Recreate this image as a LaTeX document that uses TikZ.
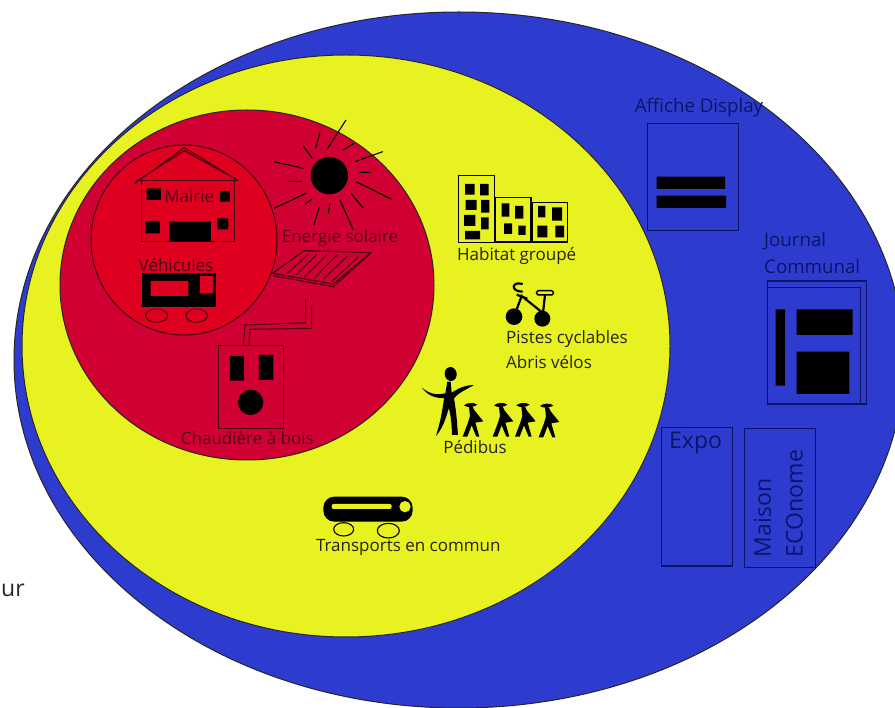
\documentclass[tikz,border=0pt]{standalone}
\usepackage{fontspec}
\setmainfont{Open Sans}
\definecolor{cblue}{HTML}{2E3BCF}
\definecolor{cyellow}{HTML}{E8F220}
\definecolor{cred}{HTML}{D00032}
\definecolor{cinner}{HTML}{DF0020}
\definecolor{tred}{HTML}{4E0818}
\definecolor{lred}{HTML}{4A0412}
\definecolor{tyel}{HTML}{24240E}
\definecolor{tblue}{HTML}{0C1568}
\definecolor{lblue}{HTML}{0C1466}
\tikzset{
  lab/.style={inner sep=0pt,font=\fontsize{17}{19}\selectfont},
  labred/.style={lab,text=tred},
  labyel/.style={lab,text=tyel},
  labblue/.style={inner sep=0pt,text=tblue,font=\fontsize{18.7}{21}\selectfont},
  labbig/.style={inner sep=0pt,text=tblue,font=\fontsize{23}{25}\selectfont},
  regionline/.style={draw=black!85,line width=1pt},
  redline/.style={draw=lred,line width=1.1pt},
  blueline/.style={draw=lblue,line width=1.2pt},
  zoomA/.style={shift={(50,110)},x=0.33333pt,y=-0.33333pt},
  zoomB/.style={shift={(300,160)},x=0.33333pt,y=-0.33333pt},
  zoomC/.style={shift={(620,90)},x=0.33333pt,y=-0.33333pt},
  kid/.pic={
    \fill[black] (-20,-2) .. controls (-12,-10) and (10,-12) .. (20,-4) .. controls (10,4) and (-10,6) .. cycle;
    \fill[black] (-5,2) -- (6,2) -- (12,14) -- (38,46) -- (14,50) -- (26,92) -- (17,92) -- (3,58) -- (-10,92) -- (-24,92) -- (-8,50) -- (-2,30) -- cycle;
  }
}
\begin{document}
\begin{tikzpicture}[x=1pt,y=-1pt]
\useasboundingbox (0,0) rectangle (895,708);
\clip (0,0) rectangle (895,708);
% regions
\path[fill=cblue,regionline] (459,360) ellipse (445 and 348);
\path[fill=cyellow,regionline] (346,346) ellipse (324 and 291);
\path[fill=cred,regionline] (247,285) ellipse (187 and 175);
\path[fill=cinner,redline] (184,240) ellipse (93 and 95);
\node[inner sep=0pt,anchor=west,font=\fontsize{23}{28}\selectfont,text=black!85] (ur) at (1,590) {ur};
% red circle
\begin{scope}[zoomA]
  % house
  \draw[redline] (255,220) -- (403,113) -- (565,212) (262,212) -- (403,122) -- (558,208);
  \draw[redline] (258,212) -- (560,212);
  \draw[redline] (275,212) rectangle (553,395);
  \fill[black] (290,235) rectangle (333,270) (510,243) rectangle (540,275)
    (287,333) rectangle (330,370) (503,325) rectangle (535,358) (358,335) rectangle (483,395);
  \node[labred] (mairie) at (418,258) {Mairie};
  % vehicle
  \node[labred] (vehicules) at (378,466) {Véhicules};
  \fill[black] (277,490) rectangle (497,590);
  \fill[cinner] (302,513) rectangle (415,558) (450,498) rectangle (490,550);
  \draw[redline] (320,617) ellipse (33 and 20) (440,617) ellipse (32 and 20);
  % sun
  \fill[black] (838,197) circle (56);
  \draw[draw=black,line width=1.1pt]
    (830,120)--(888,30) (797,115)--(810,68) (760,108)--(787,145) (880,120)--(912,100)
    (915,155)--(998,125) (928,187)--(962,187) (918,215)--(1025,268) (903,250)--(940,295)
    (870,270)--(910,360) (840,280)--(835,310) (808,290)--(792,345) (785,268)--(765,282)
    (768,250)--(672,295) (715,214)--(758,214) (760,175)--(672,155);
  \node[labred] (solaire) at (870,385) {Energie solaire};
  % panel
  \draw[redline,line width=1.3pt] (668,490) -- (762,422) -- (962,428) -- (850,522) -- cycle;
  \draw[redline] (668,497) -- (850,530) -- (962,430);
  \draw[redline] (712,490)--(775,432) (738,495)--(800,434) (765,500)--(830,435)
    (792,505)--(860,436) (818,510)--(892,438) (845,515)--(925,440);
  % pipes
  \draw[redline] (767,565) -- (767,638) -- (585,645) -- (580,705);
  \draw[redline] (785,588) -- (785,655) -- (600,658) -- (597,705);
  % boiler
  \draw[redline,line width=1.3pt] (505,707) rectangle (700,955);
  \fill[black] (540,738) rectangle (582,812) (627,735) rectangle (670,810);
  \fill[black] (602,877) circle (38);
  \node[labred] (chaudiere) at (592,985) {Chaudière à bois};
\end{scope}
% yellow region
\begin{scope}[zoomB]
  \draw[black,line width=1.2pt] (476,46) rectangle (583,248) (586,113) rectangle (693,246) (696,127) rectangle (803,246);
  \fill[black] (495,72) rectangle (524,104) (540,72) rectangle (566,106)
    (497,120) rectangle (530,150) (543,120) rectangle (568,158)
    (492,165) rectangle (526,198) (543,172) rectangle (566,208)
    (495,213) rectangle (540,238)
    (605,130) rectangle (628,170) (645,138) rectangle (670,176)
    (612,190) rectangle (636,222) (655,197) rectangle (677,225)
    (714,138) rectangle (736,172) (756,142) rectangle (786,182)
    (712,197) rectangle (742,232) (766,197) rectangle (792,232);
  \node[labyel] (habitat) at (650,287) {Habitat groupé};
  % bike
  \fill[black] (642,470) circle (25) (727,476) circle (24);
  \draw[black,line width=2.2pt] (642,470) -- (665,408) -- (730,460) (735,405) -- (727,476) (650,404) -- (682,416);
  \draw[black,line width=2.2pt] (668,372) .. controls (635,362) and (630,395) .. (668,395);
  \draw[black,line width=1.5pt,fill=cyellow,rounded corners=1.5pt] (710,392) rectangle (760,405);
  \node[labyel,anchor=west] (pistes) at (618,537) {Pistes cyclables};
  \node[labyel,anchor=west] (abris) at (618,605) {Abris vélos};
  % teacher
  \fill[black,rotate around={10:(452,642)}] (452,642) ellipse (18 and 21);
  \fill[black] (365,682) .. controls (390,705) and (415,705) .. (436,700) -- (442,665) -- (452,665)
    -- (455,698) .. controls (480,682) and (500,675) .. (522,675)
    .. controls (500,688) and (480,695) .. (462,715)
    .. controls (470,760) and (472,800) .. (474,825) -- (456,825)
    .. controls (455,790) and (452,760) .. (446,745)
    .. controls (438,775) and (428,805) .. (408,828)
    .. controls (420,790) and (428,750) .. (432,714)
    .. controls (410,715) and (385,710) .. cycle;
  \pic at (512,738) {kid};
  \pic at (602,738) {kid};
  \pic at (669,738) {kid};
  \pic at (740,740) {kid};
  \node[labyel] (pedibus) at (525,862) {Pédibus};
  % tram
  \fill[black,rounded corners=11pt] (70,1010) rectangle (338,1085);
  \fill[cyellow,rounded corners=2pt] (95,1032) rectangle (275,1047);
  \fill[cyellow] (315,1040) circle (17);
  \draw[black,line width=1.1pt] (131,1108) ellipse (30 and 20) (265,1112) ellipse (33 and 22);
  \node[labyel] (transports) at (325,1162) {Transports en commun};
\end{scope}
% blue region
\begin{scope}[zoomC]
  \node[labblue] (affiche) at (237,53) {Affiche Display};
  \draw[blueline] (82,100) rectangle (356,422);
  \fill[black] (110,260) rectangle (315,297) (110,317) rectangle (318,354);
  \node[labblue,anchor=west] (journal) at (432,453) {Journal};
  \node[labblue,anchor=west] (communal) at (432,528) {Communal};
  \draw[blueline] (442,573) rectangle (740,942);
  \draw[blueline] (442,592) rectangle (722,942);
  \fill[black] (467,658) rectangle (495,887) (530,658) rectangle (698,735) (530,785) rectangle (688,912);
  \draw[blueline] (125,1012) rectangle (338,1428);
  \node[labbig,anchor=west] (expo) at (147,1060) {Expo};
  \draw[blueline] (374,1015) rectangle (586,1433);
  \node[labbig,rotate=90,anchor=west] (maison) at (428,1402) {Maison};
  \node[labbig,rotate=90,anchor=west] (econome) at (523,1402) {ECOnome};
\end{scope}
\end{tikzpicture}
\end{document}
